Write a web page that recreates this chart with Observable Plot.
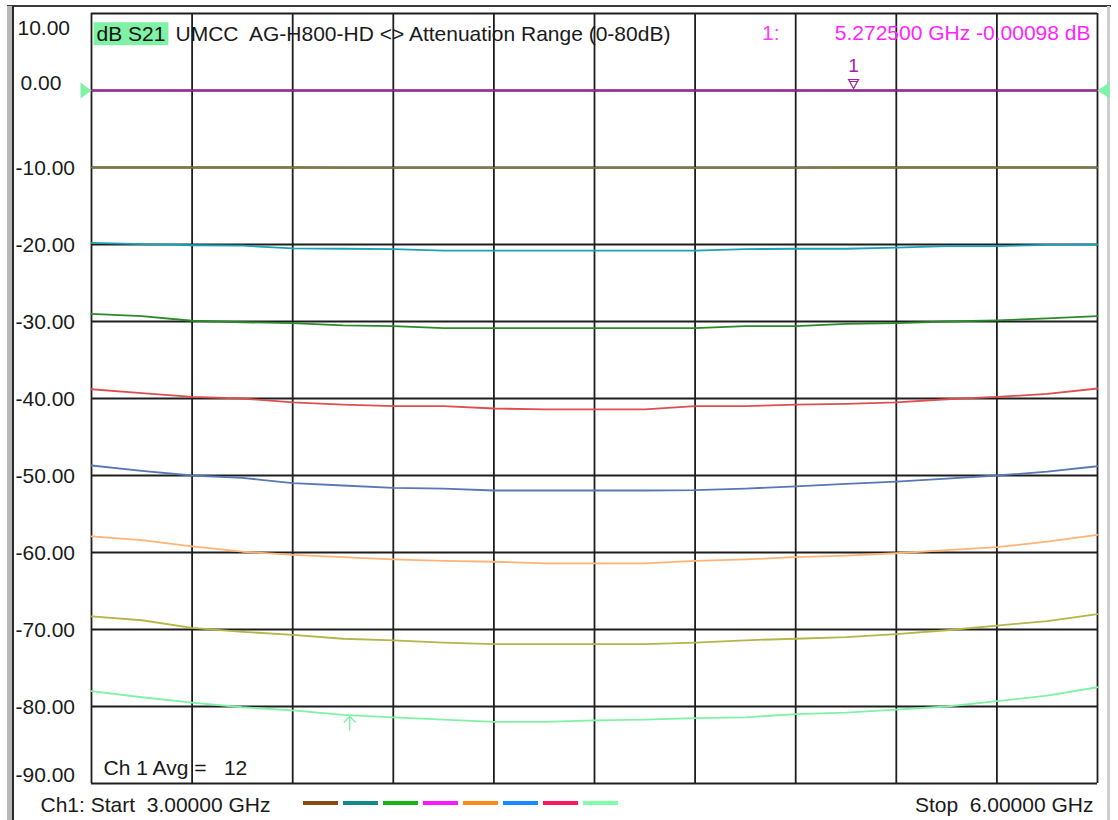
<!DOCTYPE html>
<html><head><meta charset="utf-8">
<script src="https://cdn.jsdelivr.net/npm/d3@7"></script>
<script src="https://cdn.jsdelivr.net/npm/@observablehq/plot@0.6"></script>
<style>
html,body{margin:0;padding:0;background:#fff;}
#wrap{position:relative;width:1118px;height:820px;overflow:hidden;background:#fff;}
#wrap svg text{white-space:pre;}
.chrome{position:absolute;}
#main{position:absolute;left:0;top:0;}
#legend{position:absolute;left:300px;top:801px;}
</style></head><body>
<div id="wrap">
 <div class="chrome" style="left:7px;top:5px;width:1104px;height:2px;background:#3c3c3c"></div>
 <div class="chrome" style="left:7px;top:6px;width:5px;height:814px;background:#b8b8b8"></div>
 <div class="chrome" style="left:12px;top:6px;width:2px;height:814px;background:#2a2a2a"></div>
 <div class="chrome" style="left:1107px;top:6px;width:3px;height:814px;background:#cfcfcf"></div>
 <div id="main"></div>
 <div id="legend"></div>
</div>
<script>
// ---------- data ----------
const freqGHz = [3.00,3.15,3.30,3.45,3.60,3.75,3.90,4.05,4.20,4.35,4.50,4.65,4.80,4.95,5.10,5.25,5.40,5.55,5.70,5.85,6.00];
const trace0dB  = [0.00,0.00,0.00,0.00,0.00,0.00,0.00,0.00,0.00,0.00,0.00,0.00,0.00,0.00,0.00,0.00,0.00,0.00,0.00,0.00,0.00];
const trace10dB = [-10.0,-10.0,-10.0,-10.0,-10.0,-10.05,-10.05,-10.05,-10.05,-10.05,-10.05,-10.05,-10.05,-10.05,-10.05,-10.0,-10.0,-10.0,-10.0,-10.0,-10.0];
const trace20dB = [-19.8,-19.95,-20.1,-20.15,-20.5,-20.55,-20.6,-20.8,-20.8,-20.8,-20.8,-20.8,-20.8,-20.6,-20.55,-20.55,-20.4,-20.2,-20.2,-20.05,-20.0];
const trace30dB = [-29.0,-29.3,-29.9,-30.1,-30.2,-30.5,-30.6,-30.85,-30.85,-30.85,-30.85,-30.85,-30.85,-30.6,-30.6,-30.3,-30.2,-30.0,-29.85,-29.6,-29.3];
const trace40dB = [-38.8,-39.3,-39.8,-40.0,-40.5,-40.8,-41.0,-41.0,-41.3,-41.4,-41.4,-41.4,-41.0,-41.0,-40.8,-40.7,-40.5,-40.1,-39.8,-39.4,-38.7];
const trace50dB = [-48.7,-49.4,-50.0,-50.3,-51.0,-51.3,-51.6,-51.7,-51.95,-51.95,-51.95,-51.95,-51.9,-51.7,-51.4,-51.1,-50.8,-50.4,-50.0,-49.5,-48.8];
const trace60dB = [-57.9,-58.4,-59.2,-59.9,-60.3,-60.6,-60.9,-61.1,-61.2,-61.4,-61.4,-61.4,-61.1,-60.9,-60.6,-60.4,-60.1,-59.7,-59.3,-58.6,-57.7];
const trace70dB = [-68.3,-68.8,-69.8,-70.3,-70.7,-71.2,-71.4,-71.7,-71.9,-71.9,-71.9,-71.9,-71.7,-71.4,-71.2,-71.0,-70.6,-70.1,-69.5,-68.9,-68.0];
const trace80dB = [-78.0,-78.8,-79.5,-80.1,-80.5,-81.1,-81.4,-81.7,-82.0,-82.0,-81.8,-81.7,-81.5,-81.4,-81.0,-80.8,-80.4,-80.0,-79.3,-78.6,-77.5];

const seriesNames = ["0 dB","10 dB","20 dB","30 dB","40 dB","50 dB","60 dB","70 dB","80 dB"];
const traceColors = ["#a31fa3","#7d7a3a","#1aa3b5","#2a8a2a","#de4f4f","#5777b5","#ffb476","#b5b548","#7ff2a6"];

const gridFreqGHz = [3.0,3.3,3.6,3.9,4.2,4.5,4.8,5.1,5.4,5.7,6.0];
const yTicks = [10,0,-10,-20,-30,-40,-50,-60,-70,-80,-90];

const marker1FreqGHz = [5.2725];
const marker1Db = [-0.00098];
const arrowMarkerFreqGHz = [3.77];
const arrowMarkerDb = [-81.3];
const refLevelDb = [0];

const titleMeas = "dB S21";
const titleText = "UMCC  AG-H800-HD <> Attenuation Range (0-80dB)";
const markerLabel = "1:";
const markerReadout = "5.272500 GHz -0.00098 dB";
const avgText = "Ch 1 Avg =   12";
const startText = "Ch1: Start  3.00000 GHz";
const stopText = "Stop  6.00000 GHz";
const legendColors = ["#8b4a12","#14898b","#16b316","#ff17ff","#ff8a17","#178aff","#ff175e","#80ffa8"];

// ---------- table ----------
const traceValues = [trace0dB,trace10dB,trace20dB,trace30dB,trace40dB,trace50dB,trace60dB,trace70dB,trace80dB];
const rows = seriesNames.flatMap((s,i)=>freqGHz.map((f,j)=>({series:s,freq:f,db:traceValues[i][j]})));

// ---------- custom symbols ----------
const symRefRight = {draw(c){c.moveTo(-11,-8);c.lineTo(0,0);c.lineTo(-11,8);c.closePath();}};
const symRefLeft  = {draw(c){c.moveTo(12,-8);c.lineTo(0,0);c.lineTo(12,8);c.closePath();}};
const symMarker   = {draw(c){c.moveTo(-5,-11);c.lineTo(5,-11);c.lineTo(0,-2);c.closePath();c.moveTo(-4,-9);c.lineTo(4,-9);}};
const symArrow    = {draw(c){c.moveTo(0,0);c.lineTo(0,14);c.moveTo(-6,6);c.lineTo(0,0);c.lineTo(6,6);}};

const font = "'Liberation Sans', Arial, sans-serif";
const fs = 21;

const chart = Plot.plot({
  width:1118, height:820,
  marginLeft:91, marginRight:21, marginTop:13, marginBottom:37,
  x:{domain:[3,6], axis:null},
  y:{domain:[-90,10], axis:null},
  color:{domain:seriesNames, range:traceColors},
  style:{fontFamily:font, fontSize:"21px", background:"transparent", overflow:"visible"},
  marks:[
    Plot.ruleX(gridFreqGHz,{x:d=>d, stroke:"#1e1e1e", strokeWidth:1.8}),
    Plot.ruleY(yTicks,{y:d=>d, stroke:"#1e1e1e", strokeWidth:1.8}),
    Plot.line(rows,{x:"freq", y:"db", z:"series", stroke:"series", strokeWidth:1.8}),
    // reference-level triangles
    Plot.dot(refLevelDb,{x:()=>3, y:d=>d, symbol:symRefRight, fill:"#7ff2a6", stroke:"none"}),
    Plot.dot(refLevelDb,{x:()=>6, y:d=>d, symbol:symRefLeft, fill:"#7ff2a6", stroke:"none"}),
    // marker 1
    Plot.dot(marker1FreqGHz,{x:d=>d, y:(d,i)=>marker1Db[i], symbol:symMarker, fill:"white", stroke:"#a31fa3", strokeWidth:1.2}),
    Plot.text(marker1FreqGHz,{x:d=>d, y:(d,i)=>marker1Db[i], text:()=>"1", dy:-25, fill:"#a31fa3", fontSize:19}),
    // arrow marker
    Plot.dot(arrowMarkerFreqGHz,{x:d=>d, y:(d,i)=>arrowMarkerDb[i], symbol:symArrow, fill:"none", stroke:"#7ff2a6", strokeWidth:1.4}),
    // y tick labels
    Plot.text(yTicks.filter(d=>d<0 && d>-90),{y:d=>d, text:d=>d.toFixed(2), frameAnchor:"left", dx:-76, dy:1, textAnchor:"start", fill:"#1a1a1a", fontSize:fs}),
    Plot.text(yTicks.filter(d=>d===10),{y:d=>d, text:d=>d.toFixed(2), frameAnchor:"left", dx:-74, dy:15, textAnchor:"start", fill:"#1a1a1a", fontSize:fs}),
    Plot.text(yTicks.filter(d=>d===0),{y:d=>d, text:d=>d.toFixed(2), frameAnchor:"left", dx:-71, dy:-7, textAnchor:"start", fill:"#1a1a1a", fontSize:fs}),
    Plot.text(yTicks.filter(d=>d===-90),{y:d=>d, text:d=>d.toFixed(2), frameAnchor:"left", dx:-76, dy:-8, textAnchor:"start", fill:"#1a1a1a", fontSize:fs}),
    // title
    Plot.text([titleMeas],{frameAnchor:"top-left", dx:5, dy:21, textAnchor:"start", lineAnchor:"middle", fill:"#111", fontSize:fs}),
    Plot.text([titleText],{frameAnchor:"top-left", dx:84, dy:21, textAnchor:"start", lineAnchor:"middle", fill:"#1a1a1a", fontSize:fs}),
    Plot.text([markerLabel],{frameAnchor:"top-right", dx:-318, dy:20, textAnchor:"end", lineAnchor:"middle", fill:"#ff3cff", fontSize:fs}),
    Plot.text([markerReadout],{frameAnchor:"top-right", dx:-7, dy:20, textAnchor:"end", lineAnchor:"middle", fill:"#ff1fff", fontSize:fs}),
    // bottom texts
    Plot.text([avgText],{frameAnchor:"bottom-left", dx:12, dy:-15, textAnchor:"start", lineAnchor:"middle", fill:"#1a1a1a", fontSize:fs}),
    Plot.text([startText],{frameAnchor:"bottom-left", dx:-51, dy:22, textAnchor:"start", lineAnchor:"middle", fill:"#1a1a1a", fontSize:fs}),
    Plot.text([stopText],{frameAnchor:"bottom-right", dx:-4, dy:22, textAnchor:"end", lineAnchor:"middle", fill:"#1a1a1a", fontSize:fs})
  ]
});
document.getElementById("main").appendChild(chart);

// green highlight box behind "dB S21"
for (const t of chart.querySelectorAll("text")) {
  if (t.textContent === titleMeas) {
    const b = t.getBBox();
    const r = document.createElementNS("http://www.w3.org/2000/svg","rect");
    r.setAttribute("x", b.x - 3); r.setAttribute("y", b.y);
    r.setAttribute("width", b.width + 6); r.setAttribute("height", b.height);
    r.setAttribute("fill", "#7ff2a6");
    if (t.getAttribute("transform")) r.setAttribute("transform", t.getAttribute("transform"));
    t.parentNode.insertBefore(r, t);
  }
}

const legend = Plot.plot({
  width:321, height:4, margin:0,
  x:{type:"band", domain:legendColors, paddingInner:0.12, paddingOuter:0, axis:null},
  y:{axis:null},
  style:{background:"transparent"},
  marks:[Plot.cell(legendColors,{x:d=>d, fill:d=>d})]
});
document.getElementById("legend").appendChild(legend);
</script>
</body></html>
